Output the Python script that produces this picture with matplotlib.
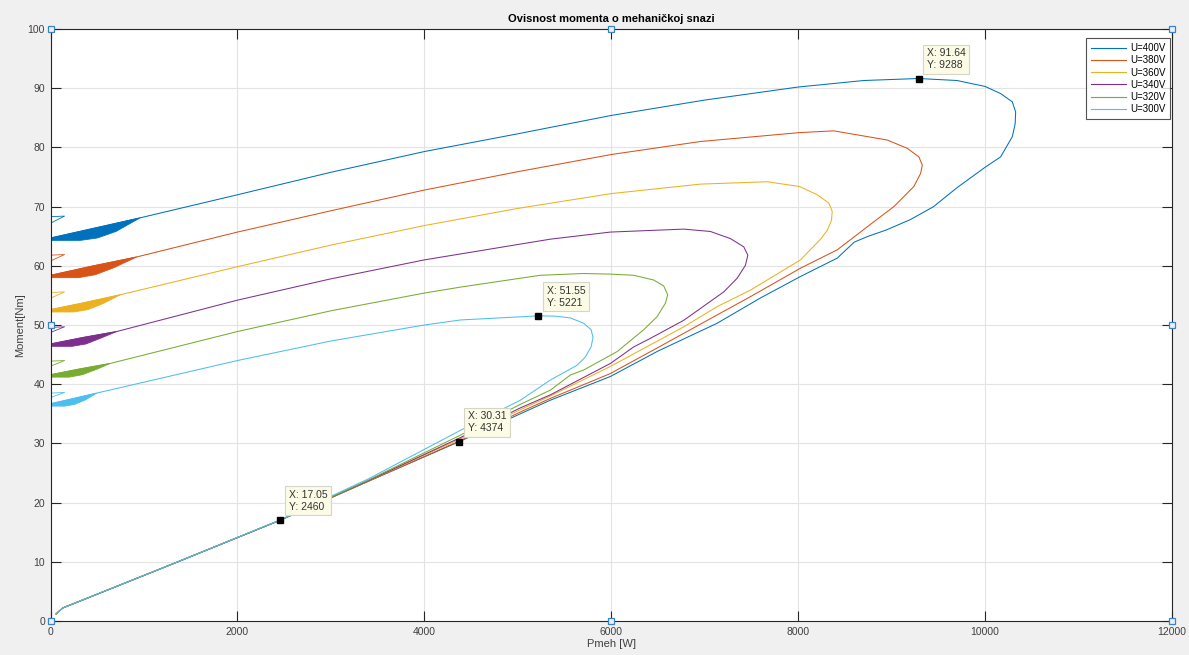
import matplotlib.pyplot as plt

# ---------------------------------------------------------------------------
# Data: moment [Nm] vs mechanical power [W]
# Each curve goes from start (P=0) along the upper branch, around the nose,
# and back down the lower branch to the origin.
# ---------------------------------------------------------------------------

labels = ["U=400V", "U=380V", "U=360V", "U=340V", "U=320V", "U=300V"]
colors = ["#0072BD", "#D95319", "#EDB120", "#7E2F8E", "#77AC30", "#4DBEEE"]

p_400 = [0, 480, 958, 2000, 3000, 4000, 5000, 6000, 7000, 8000, 8700, 9288, 9700,
         10000, 10166, 10291, 10327, 10322, 10291, 10166, 10005, 9700, 9449, 9200,
         8934, 8750, 8600, 8418, 8025, 7600, 7133, 6500, 5990, 5348, 5027, 4374,
         3400, 2460, 1300, 130, 60]
t_400 = [64.7, 66.4, 68.1, 72.0, 75.8, 79.3, 82.3, 85.4, 88.0, 90.2, 91.3, 91.64, 91.3,
         90.3, 89.1, 87.7, 86.0, 84.0, 81.8, 78.4, 76.7, 73.2, 70.0, 67.8,
         66.0, 65.0, 64.0, 61.3, 58.2, 54.6, 50.3, 45.6, 41.3, 37.3, 35.0, 30.31,
         23.6, 17.05, 9.6, 2.2, 1.2]

p_380 = [0, 460, 923, 2000, 3000, 4000, 5000, 6000, 6955, 8014, 8380, 8953, 9167,
         9292, 9328, 9310, 9238, 9131, 9024, 8881, 8418, 8025, 7490, 7133, 6500,
         5990, 5348, 5027, 4374, 3400, 2460, 1300, 130, 60]
t_380 = [58.4, 60.0, 61.5, 65.7, 69.3, 72.8, 75.9, 78.8, 81.0, 82.5, 82.8, 81.25, 79.85,
         78.4, 77.0, 75.6, 73.4, 71.7, 70.0, 68.3, 62.7, 59.6, 54.8, 51.7, 46.2,
         41.8, 37.6, 35.3, 30.4, 23.6, 17.05, 9.6, 2.2, 1.2]

p_360 = [0, 370, 744, 2000, 3000, 4000, 5000, 6000, 6955, 7668, 8014, 8204, 8328,
         8364, 8357, 8311, 8239, 8025, 7490, 7133, 6776, 5990, 5348, 5027, 4374,
         3400, 2460, 1300, 130, 60]
t_360 = [52.6, 53.8, 55.1, 59.85, 63.5, 66.8, 69.7, 72.2, 73.8, 74.2, 73.4, 72.0, 70.6,
         69.2, 67.7, 66.0, 64.5, 61.0, 55.9, 53.1, 49.7, 43.0, 38.0, 35.7, 30.7,
         23.7, 17.05, 9.6, 2.2, 1.2]

p_340 = [0, 350, 708, 2000, 3000, 4000, 4385, 5348, 5990, 6776, 7061, 7275, 7418,
         7461, 7436, 7347, 7204, 6776, 6419, 6240, 5990, 5348, 5027, 4374, 3400,
         2460, 1300, 130, 60]
t_340 = [46.8, 47.9, 48.9, 54.2, 57.8, 61.0, 62.0, 64.5, 65.7, 66.2, 65.8, 64.6, 63.2,
         61.8, 60.1, 57.9, 55.6, 50.8, 47.75, 46.3, 43.5, 38.2, 36.0, 30.9, 23.7,
         17.05, 9.6, 2.2, 1.2]

p_320 = [0, 320, 637, 2000, 3000, 4000, 4385, 5240, 5700, 5990, 6240, 6454, 6561,
         6604, 6580, 6490, 6347, 6062, 5705, 5562, 5348, 5027, 4374, 3400, 2460,
         1300, 130, 60]
t_320 = [41.6, 42.6, 43.5, 48.9, 52.4, 55.4, 56.4, 58.4, 58.7, 58.6, 58.4, 57.6, 56.6,
         55.1, 53.7, 51.4, 49.2, 45.5, 42.4, 41.55, 39.0, 36.6, 31.3, 23.8, 17.05,
         9.6, 2.2, 1.2]

p_300 = [0, 250, 494, 2000, 3000, 4000, 4385, 5221, 5400, 5562, 5705, 5784, 5805,
         5784, 5723, 5634, 5348, 5027, 4385, 3400, 2460, 1300, 130, 60]
t_300 = [36.7, 37.6, 38.5, 44.0, 47.3, 50.0, 50.85, 51.55, 51.5, 51.2, 50.3, 49.2, 47.9,
         46.3, 44.6, 43.2, 40.7, 37.3, 32.2, 24.0, 17.1, 9.6, 2.2, 1.2]

# lower edge of the thick start-up band (oscillations), joined to the upper branch
blob_p_400 = [0, 320, 500, 700, 958]
blob_t_400 = [64.3, 64.3, 64.7, 65.8, 68.1]
blob_p_380 = [0, 300, 480, 680, 923]
blob_t_380 = [58.0, 58.0, 58.5, 59.7, 61.5]
blob_p_360 = [0, 250, 400, 560, 744]
blob_t_360 = [52.2, 52.2, 52.6, 53.6, 55.1]
blob_p_340 = [0, 230, 380, 540, 708]
blob_t_340 = [46.4, 46.4, 46.8, 47.8, 48.9]
blob_p_320 = [0, 200, 340, 490, 637]
blob_t_320 = [41.2, 41.2, 41.6, 42.5, 43.5]
blob_p_300 = [0, 150, 260, 380, 494]
blob_t_300 = [36.3, 36.3, 36.6, 37.4, 38.5]

# small start transient loops near P=0
loop_p = [0, 150, 25, 0]
loop_t_400 = [68.3, 68.4, 67.4, 67.2]
loop_t_380 = [61.8, 61.9, 61.0, 60.8]
loop_t_360 = [55.5, 55.6, 54.7, 54.5]
loop_t_340 = [49.6, 49.7, 48.9, 48.7]
loop_t_320 = [43.9, 44.0, 43.2, 43.0]
loop_t_300 = [38.5, 38.6, 37.9, 37.7]

# data tips (labels as shown in the original, X/Y swapped)
tip_p = [2460, 4374, 5221, 9288]
tip_t = [17.05, 30.31, 51.55, 91.64]

curves_p = [p_400, p_380, p_360, p_340, p_320, p_300]
curves_t = [t_400, t_380, t_360, t_340, t_320, t_300]
blobs_p = [blob_p_400, blob_p_380, blob_p_360, blob_p_340, blob_p_320, blob_p_300]
blobs_t = [blob_t_400, blob_t_380, blob_t_360, blob_t_340, blob_t_320, blob_t_300]
loops_t = [loop_t_400, loop_t_380, loop_t_360, loop_t_340, loop_t_320, loop_t_300]

plt.rcParams['font.family'] = ['Liberation Sans', 'DejaVu Sans']

fig = plt.figure(figsize=(11.89, 6.55), dpi=100, facecolor='#f0f0f0')
ax = fig.add_axes([0.0425, 0.0519, 0.9432, 0.9038])

for P, T, bp, bt, lt, c, lab in zip(curves_p, curves_t, blobs_p, blobs_t,
                                    loops_t, colors, labels):
    # start-up band: upper branch points up to the join + lower edge reversed
    n_up = 3
    poly_p = P[:n_up] + bp[::-1]
    poly_t = T[:n_up] + bt[::-1]
    ax.fill(poly_p, poly_t, color=c, lw=0.6, zorder=2)
    ax.plot(loop_p, lt, color=c, lw=0.6, zorder=2)
    ax.plot(P, T, color=c, lw=0.75, label=lab, zorder=2,
            solid_joinstyle='round')

# data tips
for p, t in zip(tip_p, tip_t):
    ax.plot(p, t, 's', color='black', ms=5, zorder=5)
    ax.annotate(f"X: {t:.2f}\nY: {p}", xy=(p, t), xytext=(6, 6),
                textcoords='offset points', ha='left', va='bottom',
                fontsize=7.5, color='#333333', linespacing=1.25, zorder=6,
                bbox=dict(boxstyle='square,pad=0.35', fc='#fbfbe6',
                          ec='#d6d6c8', lw=0.8))

ax.set_xlim(0, 12000)
ax.set_ylim(0, 100)
ax.set_xticks(range(0, 12001, 2000))
ax.set_yticks(range(0, 101, 10))
ax.grid(True, color='#e3e3e3', lw=0.8)
ax.set_axisbelow(True)
ax.tick_params(direction='in', length=7, width=0.8, top=True, right=True,
               labelsize=7.5, labelcolor='#404040', color='#262626', pad=4)
for s in ax.spines.values():
    s.set_color('#262626')
    s.set_linewidth(0.8)

ax.set_title("Ovisnost momenta o mehaničkoj snazi", fontsize=8,
             fontweight='bold', pad=5)
ax.set_xlabel("Pmeh [W]", fontsize=8, color='#404040', labelpad=2)
ax.set_ylabel("Moment[Nm]", fontsize=8, color='#404040', labelpad=2)

# figure-edit handles at corners and mid-points of the axes
hx = [0, 6000, 12000, 0, 12000, 0, 6000, 12000]
hy = [0, 0, 0, 50, 50, 100, 100, 100]
ax.plot(hx, hy, 's', ms=4, mfc='#e8f2fb', mec='#3c82c8', mew=0.9,
        ls='none', clip_on=False, zorder=7)

leg = ax.legend(loc='upper right', bbox_to_anchor=(0.9985, 0.984),
                borderaxespad=0, fontsize=7, frameon=True, fancybox=False,
                handlelength=3.6, labelspacing=0.22, borderpad=0.5,
                handletextpad=0.4)
leg.get_frame().set_edgecolor('#262626')
leg.get_frame().set_linewidth(0.8)
for line in leg.get_lines():
    line.set_linewidth(0.8)

fig.savefig("out.png", dpi=100, facecolor=fig.get_facecolor())
